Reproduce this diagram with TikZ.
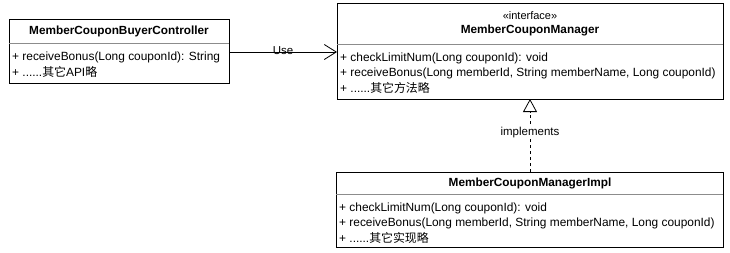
\documentclass[tikz,border=0pt]{standalone}
\usepackage{fontspec}
\setmainfont{Liberation Sans}
\newfontfamily\cjk{Noto Sans CJK SC}
\usetikzlibrary{arrows.meta}
\begin{document}
\begin{tikzpicture}[x=1pt,y=-1pt,
  classbox/.style={draw=black, line width=0.8pt, fill=white, anchor=north west, inner sep=0pt},
  divider/.style={draw=black!45, line width=0.7pt},
  member/.style={anchor=west, inner sep=0pt, font=\fontsize{11.9}{14}\selectfont},
  title/.style={inner sep=0pt, font=\fontsize{11.8}{14}\selectfont\bfseries},
  stereo/.style={inner sep=0pt, font=\fontsize{11}{13}\selectfont},
  lbl/.style={inner sep=1pt, font=\fontsize{11.5}{13}\selectfont}
]
\useasboundingbox (0,0) rectangle (730,252);
% Controller
\node[classbox, minimum width=220pt, minimum height=64pt] (ctrl) at (9,19) {};
\coordinate (ctrlDL) at (9,43);
\coordinate (ctrlDR) at (229,43);
\draw[divider] (ctrlDL) -- (ctrlDR);
\node[title] (ctrlT) at (119,31) {MemberCouponBuyerController};
\node[member] (ctrlM1) at (12,57) {+ receiveBonus(Long couponId): String};
\node[member] (ctrlM2) at (12,72) {+ ......{\cjk 其它}API{\cjk 略}};
% Interface
\node[classbox, minimum width=386pt, minimum height=96pt] (intf) at (337,3) {};
\coordinate (intfDL) at (337,44);
\coordinate (intfDR) at (723,44);
\draw[divider] (intfDL) -- (intfDR);
\node[stereo] (intfS) at (530,16) {«interface»};
\node[title] (intfT) at (530,30) {MemberCouponManager};
\node[member] (intfM1) at (340,58) {+ checkLimitNum(Long couponId): void};
\node[member] (intfM2) at (340,73) {+ receiveBonus(Long memberId, String memberName, Long couponId)};
\node[member] (intfM3) at (340,88) {+ ......{\cjk 其它方法略}};
% Impl
\node[classbox, minimum width=387pt, minimum height=75pt] (impl) at (336,172) {};
\coordinate (implDL) at (336,194);
\coordinate (implDR) at (723,194);
\draw[divider] (implDL) -- (implDR);
\node[title] (implT) at (530,183) {MemberCouponManagerImpl};
\node[member] (implM1) at (339,208) {+ checkLimitNum(Long couponId): void};
\node[member] (implM2) at (339,223) {+ receiveBonus(Long memberId, String memberName, Long couponId)};
\node[member] (implM3) at (339,238) {+ ......{\cjk 其它实现略}};
% Use connector
\coordinate (useS) at (229,52);
\coordinate (useE) at (337,52);
\draw[line width=0.8pt, -{Straight Barb[length=12pt,width=15pt,line width=0.8pt]}] (useS) -- (useE);
\node[lbl] (useL) at (283,51) {Use};
% implements connector
\coordinate (implTop) at (530,172);
\coordinate (intfBot) at (530,99);
\draw[line width=0.8pt, dash pattern=on 3pt off 3pt, -{Triangle[open,length=13pt,width=14pt,line width=0.8pt,fill=white]}] (implTop) -- (intfBot);
\node[lbl, fill=white] (implL) at (530,133) {implements};
\end{tikzpicture}
\end{document}
